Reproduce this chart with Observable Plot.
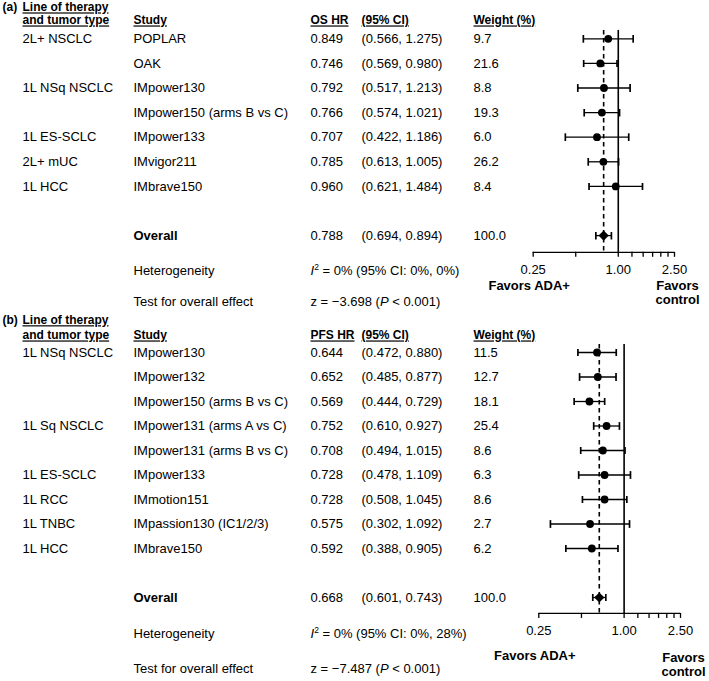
<!DOCTYPE html>
<html>
<head>
<meta charset="utf-8">
<script src="https://cdn.jsdelivr.net/npm/d3@7"></script>
<script src="https://cdn.jsdelivr.net/npm/@observablehq/plot@0.6"></script>
<style>
  body { margin: 0; background: #fff; }
  #chart svg { display: block; }
</style>
</head>
<body>
<div id="chart"></div>
<script>
// ---------- Panel (a): overall survival ----------
const osCategories = ["2L+ NSCLC", "", "1L NSq NSCLC", "", "1L ES-SCLC", "2L+ mUC", "1L HCC"];
const osStudies = ["POPLAR", "OAK", "IMpower130", "IMpower150 (arms B vs C)", "IMpower133", "IMvigor211", "IMbrave150"];
const osHR = [0.849, 0.746, 0.792, 0.766, 0.707, 0.785, 0.960];
const osLower = [0.566, 0.569, 0.517, 0.574, 0.422, 0.613, 0.621];
const osUpper = [1.275, 0.980, 1.213, 1.021, 1.186, 1.005, 1.484];
const osWeight = [9.7, 21.6, 8.8, 19.3, 6.0, 26.2, 8.4];
const osOverall = [0.788, 0.694, 0.894, 100.0];      // HR, lower, upper, weight
const osHeterogeneity = [0, 0, 0];                    // I2, CI low, CI high (%)
const osZ = -3.698;

// ---------- Panel (b): progression-free survival ----------
const pfsCategories = ["1L NSq NSCLC", "", "", "1L Sq NSCLC", "", "1L ES-SCLC", "1L RCC", "1L TNBC", "1L HCC"];
const pfsStudies = ["IMpower130", "IMpower132", "IMpower150 (arms B vs C)", "IMpower131 (arms A vs C)", "IMpower131 (arms B vs C)", "IMpower133", "IMmotion151", "IMpassion130 (IC1/2/3)", "IMbrave150"];
const pfsHR = [0.644, 0.652, 0.569, 0.752, 0.708, 0.728, 0.728, 0.575, 0.592];
const pfsLower = [0.472, 0.485, 0.444, 0.610, 0.494, 0.478, 0.508, 0.302, 0.388];
const pfsUpper = [0.880, 0.877, 0.729, 0.927, 1.015, 1.109, 1.045, 1.092, 0.905];
const pfsWeight = [11.5, 12.7, 18.1, 25.4, 8.6, 6.3, 8.6, 2.7, 6.2];
const pfsOverall = [0.668, 0.601, 0.743, 100.0];
const pfsHeterogeneity = [0, 0, 28];
const pfsZ = -7.487;

// ---------- Axis ----------
const axisTicks = [0.25, 1, 2.5];
const minorTicks = [0.5, 1.25, 1.5, 1.75, 2, 2.25];

const FONT = "'Liberation Sans', Arial, Helvetica, sans-serif";
const COL = {tag: 2, cat: 22, study: 133, hr: 310, ci: 361, weight: 473};

// render hook: let a mark post-style its own text elements
const restyle = fn => (index, scales, values, dims, context, next) => {
  const g = next(index, scales, values, dims, context);
  d3.select(g).selectAll("text").each(fn);
  return g;
};

function forest(d, L) {
  const n = d.studies.length;
  const ov = n + 1;
  const rows = d.studies.map((s, i) => ({row: i, cat: d.categories[i], study: s, hr: d.hr[i], lo: d.lower[i], hi: d.upper[i], weight: d.weight[i]}));
  const summary = [{row: ov, study: "Overall", hr: d.overall[0], lo: d.overall[1], hi: d.overall[2], weight: d.overall[3]}];
  const all = rows.concat(summary);
  const f3 = d3.format(".3f"), f1 = d3.format(".1f"), f2 = d3.format(".2f");
  const dx = k => COL[k] - L.left;
  const T = (data, o) => Plot.text(data, {frameAnchor: "left", textAnchor: "start", lineAnchor: "middle", fill: "black", ...o});
  const het = ov + L.het, test = ov + L.test, axis = ov + L.axis;
  const axisPx = L.row0 + axis * L.step;
  const H = d.heterogeneity;
  const underline = restyle(function() { this.style.textDecoration = "underline"; });
  const hetText = `<tspan font-style="italic">I</tspan><tspan dy="-5" font-size="8.5">2</tspan><tspan dy="5"> = ${H[0]}% (95% CI: ${H[1]}%, ${H[2]}%)</tspan>`;
  const testText = `z = ${f3(d.z)} (<tspan font-style="italic">P</tspan> &lt; 0.001)`;

  return Plot.plot({
    width: 709,
    height: L.height,
    marginLeft: L.left,
    marginRight: 709 - L.right,
    marginTop: 0,
    marginBottom: L.height - axisPx,
    x: {type: "log", domain: [0.25, 2.5], axis: null},
    y: {type: "linear", domain: [0, ov], range: [L.row0, L.row0 + ov * L.step], axis: null},
    style: {fontFamily: FONT, fontSize: "13px", color: "black", background: "white", overflow: "visible"},
    marks: [
      // header
      T([{y: L.head1, t: d.tag}], {y: "y", text: "t", dx: dx("tag"), fontWeight: "bold", fontSize: 12}),
      T([{y: L.head1, t: "Line of therapy"}, {y: L.head2, t: "and tumor type"}], {y: "y", text: "t", dx: dx("cat"), fontWeight: "bold", fontSize: 12, render: underline}),
      T([{y: L.head2, t: "Study"}], {y: "y", text: "t", dx: dx("study"), fontWeight: "bold", fontSize: 12, render: underline}),
      T([{y: L.head2, t: d.hrLabel}], {y: "y", text: "t", dx: dx("hr"), fontWeight: "bold", fontSize: 12, render: underline}),
      T([{y: L.head2, t: "(95% CI)"}], {y: "y", text: "t", dx: dx("ci"), fontWeight: "bold", fontSize: 12, render: underline}),
      T([{y: L.head2, t: "Weight (%)"}], {y: "y", text: "t", dx: dx("weight"), fontWeight: "bold", fontSize: 12, render: underline}),
      // table body
      T(rows, {y: "row", text: "cat", dx: dx("cat")}),
      T(rows, {y: "row", text: "study", dx: dx("study")}),
      T(summary, {y: "row", text: "study", dx: dx("study"), fontWeight: "bold"}),
      T(all, {y: "row", text: r => f3(r.hr), dx: dx("hr")}),
      T(all, {y: "row", text: r => `(${f3(r.lo)}, ${f3(r.hi)})`, dx: dx("ci")}),
      T(all, {y: "row", text: r => f1(r.weight), dx: dx("weight")}),
      T([{y: het, t: "Heterogeneity"}, {y: test, t: "Test for overall effect"}], {y: "y", text: "t", dx: dx("study")}),
      T([{y: het, t: "I2"}], {y: "y", text: "t", dx: dx("hr"), render: restyle(function() { this.innerHTML = hetText; })}),
      T([{y: test, t: "z"}], {y: "y", text: "t", dx: dx("hr"), render: restyle(function() { this.innerHTML = testText; })}),
      // forest
      Plot.ruleX([1], {y1: L.top, y2: axis, stroke: "black", strokeWidth: 1.6}),
      Plot.ruleX([d.overall[0]], {y1: L.top, y2: axis, stroke: "black", strokeWidth: 1.6, strokeDasharray: "4.5,3.5"}),
      Plot.link(all, {x1: "lo", x2: "hi", y1: "row", y2: "row", stroke: "black", strokeWidth: 1.3, markerStart: "tick", markerEnd: "tick"}),
      Plot.dot(rows, {x: "hr", y: "row", r: 3.9, fill: "black"}),
      Plot.dot(summary, {x: "hr", y: "row", r: 4.6, symbol: "diamond2", fill: "black"}),
      // axis: line, ticks, labels
      Plot.ruleY([axis], {x1: axisTicks[0], x2: axisTicks[axisTicks.length - 1], stroke: "black", strokeWidth: 1.3}),
      Plot.ruleX(axisTicks.concat(minorTicks), {y1: axis, y2: axis + L.tickLen / L.step, stroke: "black", strokeWidth: 1.3}),
      Plot.text(axisTicks, {x: v => v, y: () => axis + L.tickLab / L.step, text: v => f2(v), textAnchor: "middle", lineAnchor: "middle", fill: "black"}),
      Plot.text([axisTicks[0]], {x: v => v, y: () => ov + L.favA, text: () => "Favors ADA+", fontWeight: "bold", textAnchor: "middle", lineAnchor: "middle", dx: -4, fill: "black"}),
      Plot.text([axisTicks[axisTicks.length - 1]], {x: v => v, y: () => ov + L.favC, text: () => "Favors\ncontrol", fontWeight: "bold", textAnchor: "middle", lineAnchor: "middle", lineHeight: 1.1, dx: 3, fill: "black"})
    ]
  });
}

const chart = document.getElementById("chart");
chart.append(forest(
  {tag: "(a)", hrLabel: "OS HR", categories: osCategories, studies: osStudies, hr: osHR, lower: osLower, upper: osUpper, weight: osWeight, overall: osOverall, heterogeneity: osHeterogeneity, z: osZ},
  {height: 314, row0: 38.3, step: 24.6, head1: -1.27, head2: -0.74, top: -0.34, axis: 0.68, het: 1.42, test: 2.7, favA: 2.03, favC: 2.31, left: 532.7, right: 674, tickLen: 5, tickLab: 18}
));
chart.append(forest(
  {tag: "(b)", hrLabel: "PFS HR", categories: pfsCategories, studies: pfsStudies, hr: pfsHR, lower: pfsLower, upper: pfsUpper, weight: pfsWeight, overall: pfsOverall, heterogeneity: pfsHeterogeneity, z: pfsZ},
  {height: 367, row0: 38, step: 24.5, head1: -1.31, head2: -0.69, top: -0.33, axis: 0.65, het: 1.47, test: 2.9, favA: 2.37, favC: 2.73, left: 538.3, right: 680, tickLen: 5, tickLab: 17}
));
</script>
</body>
</html>
